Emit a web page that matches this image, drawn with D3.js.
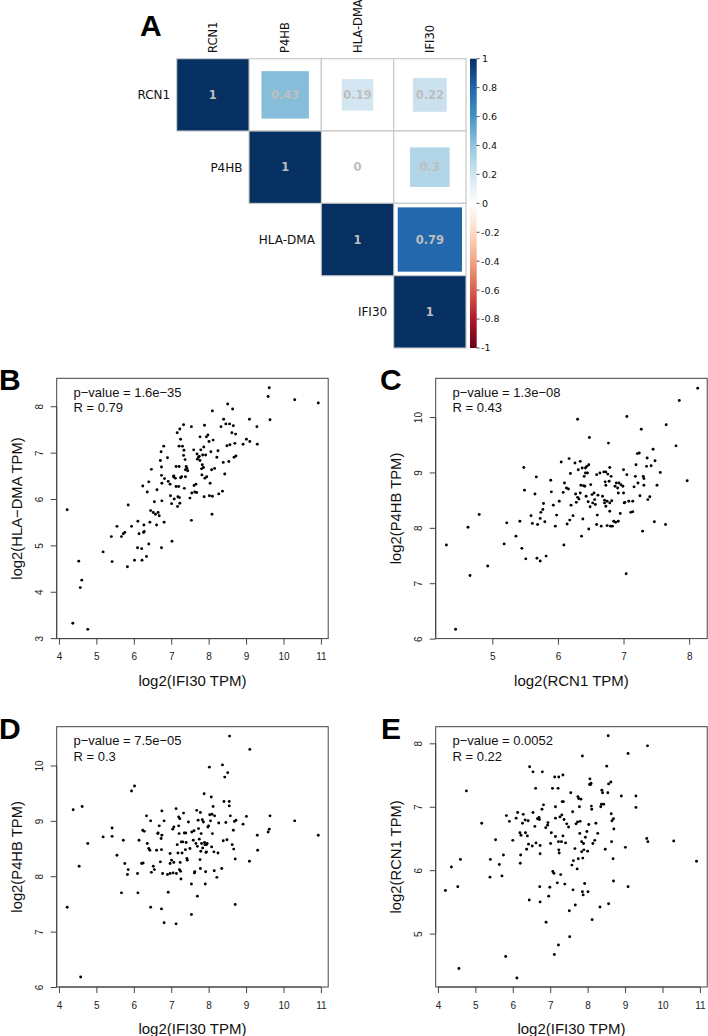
<!DOCTYPE html>
<html><head><meta charset="utf-8">
<script src="https://cdn.jsdelivr.net/npm/d3@7"></script>
<style>body{margin:0;background:#fff}svg{display:block}</style>
</head><body>
<svg id="fig" width="708" height="1036"></svg>
<script>
// ---------- Panel A data ----------
const genes = ["RCN1", "P4HB", "HLA-DMA", "IFI30"];
const corrRCN1   = [1, 0.43, 0.19, 0.22];
const corrP4HB   = [0.43, 1, 0, 0.3];
const corrHLADMA = [0.19, 0, 1, 0.79];
const corrIFI30  = [0.22, 0.3, 0.79, 1];
const legendTicks = [1, 0.8, 0.6, 0.4, 0.2, 0, -0.2, -0.4, -0.6, -0.8, -1];
const rdbuStops = ["#67001F","#B2182B","#D6604D","#F4A582","#FDDBC7","#FFFFFF","#D1E5F0","#92C5DE","#4393C3","#2166AC","#053061"];

// ---------- Panel B: IFI30 vs HLA-DMA ----------
const bX = [4.22,4.53,4.61,4.57,4.37,4.77,5.18,5.42,5.40,5.55,5.67,5.72,5.76,5.83,5.85,5.94,6.02,6.11,6.10,6.14,6.21,6.22,6.24,6.27,6.26,6.28,6.34,6.36,6.40,6.40,6.43,6.45,6.47,6.52,6.55,6.58,6.62,6.61,6.65,6.68,6.71,6.73,6.74,6.74,6.75,6.75,6.74,6.80,6.81,6.82,6.90,6.92,6.97,6.98,7.01,7.02,7.06,7.07,7.08,7.11,7.13,7.13,7.16,7.17,7.18,7.20,7.21,7.21,7.22,7.23,7.23,7.25,7.25,7.28,7.30,7.33,7.33,7.34,7.35,7.37,7.38,7.40,7.42,7.44,7.38,7.50,7.54,7.54,7.55,7.60,7.61,7.63,7.66,7.68,7.69,7.70,7.73,7.75,7.77,7.77,7.79,7.81,7.82,7.83,7.84,7.86,7.87,7.88,7.89,7.90,7.92,7.94,7.95,7.98,8.01,8.02,8.04,8.06,8.08,8.09,8.10,8.10,8.12,8.16,8.22,8.25,8.27,8.33,8.37,8.39,8.40,8.43,8.46,8.49,8.51,8.54,8.56,8.57,8.64,8.62,8.66,8.68,8.70,8.72,8.73,8.92,9.01,9.09,9.10,9.29,9.30,9.59,9.62,9.64,10.30,10.93];
const bY = [5.77,4.66,4.25,4.09,3.32,3.19,4.86,4.65,5.19,5.41,5.19,5.25,5.28,4.54,5.87,5.41,4.68,5.52,4.95,5.25,4.93,4.68,6.28,5.44,5.28,5.30,4.76,6.15,6.37,5.03,5.50,5.75,6.64,5.71,5.94,5.67,6.20,5.44,5.71,5.64,6.83,7.02,6.69,6.51,6.34,5.96,4.95,7.14,5.50,6.44,6.89,6.38,6.32,6.07,5.90,5.09,6.48,6.50,6.00,6.45,6.70,6.27,7.43,5.84,6.05,6.27,7.14,6.70,6.03,7.51,5.91,7.29,6.46,6.48,7.14,7.60,6.94,7.05,6.23,6.85,6.63,6.70,6.66,6.61,6.48,6.02,5.54,7.56,6.13,7.06,6.29,6.15,6.32,6.14,6.97,6.86,6.90,6.92,7.34,6.83,7.06,6.65,6.52,6.74,6.95,6.68,7.12,6.05,7.59,6.45,6.95,7.34,6.48,7.38,7.24,6.07,6.34,7.02,6.63,5.67,6.06,7.90,7.27,6.66,6.90,7.04,6.11,7.56,6.17,6.79,7.72,6.54,7.62,7.15,8.05,6.81,7.62,7.17,7.94,7.43,7.58,6.90,7.20,7.40,6.93,7.18,7.29,7.72,7.24,7.56,7.18,8.21,8.40,7.71,8.14,8.07];

// ---------- Panel C: RCN1 vs P4HB ----------
const cX = [4.30,4.44,4.63,4.66,4.80,4.93,5.18,5.22,5.36,5.42,5.45,5.48,5.49,5.51,5.59,5.61,5.65,5.67,5.68,5.69,5.73,5.73,5.74,5.77,5.78,5.80,5.82,5.89,5.90,5.93,5.96,5.98,6.02,6.05,6.08,6.09,6.10,6.13,6.14,6.16,6.17,6.18,6.19,6.20,6.23,6.26,6.27,6.28,6.30,6.30,6.31,6.32,6.34,6.34,6.35,6.36,6.37,6.38,6.39,6.40,6.41,6.42,6.42,6.43,6.44,6.45,6.46,6.47,6.47,6.48,6.49,6.50,6.52,6.53,6.55,6.56,6.57,6.59,6.59,6.60,6.61,6.64,6.66,6.68,6.70,6.71,6.71,6.72,6.73,6.73,6.73,6.75,6.75,6.76,6.77,6.78,6.79,6.79,6.79,6.80,6.81,6.82,6.83,6.85,6.87,6.88,6.89,6.91,6.92,6.92,6.93,6.95,6.96,6.99,7.00,7.00,7.01,7.02,7.04,7.05,7.05,7.08,7.11,7.14,7.14,7.16,7.18,7.19,7.21,7.22,7.24,7.25,7.27,7.29,7.30,7.31,7.31,7.35,7.36,7.37,7.40,7.42,7.45,7.47,7.48,7.51,7.56,7.64,7.65,7.80,7.85,7.97,8.13];
const cY = [7.69,6.17,8.01,7.14,8.24,7.31,7.71,8.09,7.85,8.12,7.63,9.09,8.68,7.44,8.22,8.08,8.61,8.92,7.45,8.06,8.17,7.40,8.28,8.33,8.44,8.11,7.49,8.86,8.65,8.41,8.03,8.23,8.48,9.19,8.64,7.69,8.81,8.72,8.07,8.70,9.25,8.14,8.98,8.41,8.22,9.17,8.61,8.46,9.96,8.55,9.05,8.52,8.63,9.20,8.77,7.85,9.08,8.16,8.76,8.93,8.75,9.08,8.99,8.57,9.11,8.99,8.47,9.14,7.98,9.63,8.38,8.78,8.60,8.45,8.63,8.51,8.42,8.96,8.06,8.23,8.59,8.99,8.03,8.57,9.01,8.45,8.50,8.83,9.01,8.39,8.77,8.04,8.48,8.97,9.53,8.84,9.09,8.45,8.30,8.03,8.93,8.49,8.03,8.12,8.75,8.10,8.81,8.72,8.12,8.63,8.81,8.26,8.78,8.75,9.05,8.63,8.45,8.46,7.17,10.01,8.96,8.48,8.28,8.48,8.29,8.74,8.93,9.14,9.34,8.81,9.35,8.58,9.78,7.94,8.93,8.77,8.89,9.11,9.26,8.51,8.56,9.12,9.42,8.11,9.21,8.77,9.00,8.06,9.86,9.48,10.30,8.85,10.52];

// ---------- Panel D: IFI30 vs P4HB ----------
const dX = [4.22,4.38,4.54,4.58,4.62,4.77,5.18,5.42,5.42,5.55,5.67,5.72,5.76,5.83,5.85,5.94,6.02,6.10,6.11,6.14,6.21,6.24,6.25,6.28,6.34,6.36,6.40,6.43,6.45,6.45,6.47,6.52,6.55,6.61,6.64,6.65,6.68,6.71,6.73,6.74,6.75,6.75,6.74,6.77,6.81,6.81,6.90,6.92,6.97,6.97,6.97,7.01,7.04,7.05,7.07,7.07,7.13,7.13,7.14,7.16,7.18,7.20,7.20,7.21,7.22,7.23,7.24,7.25,7.26,7.27,7.29,7.31,7.33,7.35,7.38,7.39,7.40,7.42,7.43,7.46,7.50,7.54,7.54,7.55,7.59,7.61,7.62,7.63,7.66,7.68,7.70,7.70,7.72,7.73,7.75,7.77,7.78,7.78,7.79,7.80,7.81,7.83,7.84,7.86,7.88,7.89,7.90,7.91,7.92,7.93,7.94,7.94,7.96,7.98,8.00,8.02,8.03,8.05,8.07,8.08,8.09,8.10,8.12,8.14,8.15,8.16,8.22,8.25,8.27,8.35,8.37,8.39,8.41,8.43,8.46,8.49,8.51,8.55,8.55,8.56,8.58,8.63,8.66,8.67,8.69,8.71,8.71,8.73,8.92,9.01,9.09,9.10,9.30,9.31,9.59,9.62,9.64,10.30,10.93];
const dY = [7.44,9.20,8.18,6.18,9.26,8.59,8.71,8.87,8.72,8.38,7.70,8.65,8.23,8.03,8.12,9.54,9.63,8.05,7.70,8.65,8.23,8.83,8.24,8.81,9.09,8.59,8.50,8.47,9.00,7.44,8.07,8.18,8.12,8.47,8.77,8.78,8.91,8.26,8.68,8.48,8.74,9.18,7.41,8.05,9.00,7.16,8.03,7.71,8.23,8.41,8.05,8.29,8.85,8.06,8.89,8.25,7.14,9.22,8.05,8.57,8.42,9.07,8.91,8.77,8.12,9.04,8.25,8.09,7.95,8.62,8.42,8.62,9.14,8.78,8.48,8.78,8.61,8.32,8.29,8.98,8.50,7.86,7.31,8.80,8.65,8.82,8.06,8.08,8.59,9.19,7.64,8.54,9.01,8.86,8.67,8.30,9.15,8.14,8.45,8.77,8.59,9.02,8.51,8.98,9.49,8.61,8.57,7.86,8.08,8.43,8.57,8.44,8.59,8.89,8.91,9.97,9.11,9.00,9.43,8.53,9.12,8.77,9.26,8.44,8.10,9.09,7.98,8.42,8.96,8.14,10.01,8.64,9.35,9.79,8.97,8.66,9.87,9.35,9.27,10.53,9.09,8.57,8.83,8.49,8.99,8.31,7.49,9.01,8.94,9.08,8.27,10.29,8.74,8.47,8.80,8.85,9.09,9.00,8.74];

// ---------- Panel E: IFI30 vs RCN1 ----------
const eX = [4.20,4.36,4.53,4.56,4.60,4.76,5.17,5.40,5.39,5.54,5.64,5.71,5.75,5.81,5.83,5.91,6.00,6.09,6.11,6.13,6.19,6.20,6.21,6.22,6.26,6.28,6.33,6.34,6.37,6.39,6.41,6.42,6.44,6.45,6.52,6.54,6.54,6.59,6.61,6.62,6.66,6.70,6.71,6.72,6.73,6.73,6.73,6.78,6.79,6.82,6.88,6.89,6.93,6.94,6.96,6.99,7.01,7.03,7.06,7.07,7.10,7.11,7.12,7.14,7.14,7.14,7.19,7.21,7.22,7.22,7.23,7.24,7.23,7.26,7.28,7.30,7.31,7.32,7.34,7.34,7.35,7.37,7.39,7.41,7.44,7.49,7.51,7.52,7.55,7.58,7.60,7.61,7.62,7.66,7.67,7.69,7.72,7.73,7.74,7.75,7.76,7.78,7.79,7.80,7.82,7.84,7.84,7.86,7.86,7.87,7.88,7.89,7.90,7.92,7.94,7.98,8.00,8.01,8.03,8.05,8.06,8.08,8.09,8.10,8.11,8.12,8.14,8.19,8.22,8.27,8.33,8.35,8.37,8.38,8.40,8.43,8.47,8.51,8.54,8.55,8.56,8.56,8.62,8.63,8.64,8.65,8.68,8.69,8.69,8.70,8.90,9.01,9.08,9.08,9.29,9.29,9.58,9.60,9.61,10.30,10.91];
const eY = [5.68,6.05,5.74,4.45,6.17,7.25,6.74,6.17,5.89,6.48,6.09,5.91,6.24,4.64,6.86,6.77,6.47,6.82,4.30,6.91,6.59,6.11,6.24,6.55,6.74,6.88,6.79,6.59,6.33,6.54,6.78,6.41,5.53,7.63,6.38,6.91,7.55,6.69,7.29,6.43,6.81,6.83,6.80,5.74,6.39,6.26,5.50,6.96,7.55,7.03,6.67,5.18,6.71,6.75,5.59,5.73,6.42,6.59,7.29,5.98,5.95,4.67,7.47,7.00,6.82,6.53,5.80,7.29,4.82,6.45,6.32,6.27,7.47,6.84,5.93,6.45,6.87,7.08,6.54,7.50,7.08,6.80,5.78,6.43,6.73,6.68,5.36,4.95,7.22,6.08,6.92,5.69,6.15,6.34,5.45,6.73,6.02,6.76,7.16,6.18,7.13,7.00,6.58,6.77,7.12,6.45,6.29,7.80,5.66,6.19,5.61,6.42,6.32,5.79,6.52,6.61,6.30,5.66,6.72,7.35,7.44,7.35,7.37,7.01,6.96,5.22,6.42,6.47,6.74,6.58,5.42,7.00,7.04,7.26,7.22,7.04,6.33,7.64,7.22,8.12,7.36,5.47,7.39,6.89,6.45,6.78,6.18,6.81,5.83,6.65,7.17,6.36,5.74,7.84,7.17,6.99,6.50,7.96,6.45,6.46,6.14];

// ---------- axis settings ----------
const ifi30Domain = [3.94, 11.195], ifi30Ticks = [4,5,6,7,8,9,10,11];
const hladmaDomain = [2.99, 8.603], hladmaTicks = [3,4,5,6,7,8];
const rcn1XDomain = [4.137, 8.275], rcn1XTicks = [5,6,7,8];
const p4hbDomain = [6.0, 10.70], p4hbTicks = [6,7,8,9,10];
const rcn1YDomain = [4.158, 8.262], rcn1YTicks = [5,6,7,8];

const svg = d3.select("#fig");
const sans = "'Liberation Sans', Arial, sans-serif";
const dv = "'DejaVu Sans', sans-serif";

// ================= Panel A =================
const corrRows = [corrRCN1, corrP4HB, corrHLADMA, corrIFI30];
const gx = d3.scaleBand().domain(genes).range([176.7, 466]);
const gy = d3.scaleBand().domain(genes).range([58.7, 348]);
const cs = gx.bandwidth();
const colorScale = d3.scaleLinear().domain(d3.range(11).map(i => -1 + i * 0.2)).range(rdbuStops);

const cells = [];
genes.forEach((rg, i) => genes.forEach((cg, j) => { if (j >= i) cells.push({ r: rg, c: cg, v: corrRows[i][j], diag: i === j }); }));

const gA = svg.append("g");
gA.selectAll("rect.grid").data(cells).join("rect")
  .attr("x", d => gx(d.c)).attr("y", d => gy(d.r)).attr("width", cs).attr("height", cs)
  .attr("fill", "#fff").attr("stroke", "#C8C8C8").attr("stroke-width", 1.2);
gA.selectAll("rect.val").data(cells.filter(d => d.v !== 0)).join("rect")
  .each(function (d) {
    const s = d.diag ? cs - 1 : Math.sqrt(Math.abs(d.v)) * cs;
    d3.select(this).attr("x", gx(d.c) + (cs - s) / 2).attr("y", gy(d.r) + (cs - s) / 2)
      .attr("width", s).attr("height", s).attr("fill", colorScale(d.v));
  });
gA.selectAll("text.val").data(cells).join("text")
  .attr("x", d => gx(d.c) + cs / 2).attr("y", d => gy(d.r) + cs / 2).attr("dy", "0.36em")
  .attr("text-anchor", "middle").attr("font-family", dv).attr("font-weight", "bold")
  .attr("font-size", 11.5).attr("fill", "#BEBEBE").text(d => d3.format("~g")(d.v));
// column labels
gA.selectAll("text.col").data(genes).join("text")
  .attr("transform", d => `translate(${gx(d) + cs / 2},53) rotate(-90)`).attr("dy", "0.36em")
  .attr("font-family", dv).attr("font-size", 11.5).attr("fill", "#111").text(d => d);
// row labels
gA.selectAll("text.row").data(genes).join("text")
  .attr("x", d => gx(d) - 6.5).attr("y", d => gy(d) + cs / 2).attr("dy", "0.36em")
  .attr("text-anchor", "end").attr("font-family", dv).attr("font-size", 12).attr("fill", "#111").text(d => d);
// color legend
const defs = svg.append("defs");
const grad = defs.append("linearGradient").attr("id", "cbar").attr("x1", 0).attr("y1", 1).attr("x2", 0).attr("y2", 0);
rdbuStops.forEach((c, i) => grad.append("stop").attr("offset", i / 10).attr("stop-color", c));
const ly = d3.scaleLinear().domain([-1, 1]).range([348, 58.7]);
gA.append("rect").attr("x", 470).attr("y", 58.7).attr("width", 6.7).attr("height", 289.3).attr("fill", "url(#cbar)");
gA.selectAll("line.lt").data(legendTicks).join("line")
  .attr("x1", 476.7).attr("x2", 479.5).attr("y1", d => ly(d)).attr("y2", d => ly(d)).attr("stroke", "#222").attr("stroke-width", 0.8);
gA.selectAll("text.lt").data(legendTicks).join("text")
  .attr("x", d => d < 0 ? 481 : 482).attr("y", d => ly(d)).attr("dy", "0.36em")
  .attr("font-family", dv).attr("font-size", 9.5).attr("fill", "#111").text(d => d);
svg.append("text").attr("x", 140).attr("y", 36).attr("font-family", sans).attr("font-weight", "bold")
  .attr("font-size", 30).text("A");

// ================= scatter panels =================
const W = 271.5, H = 260.3;
function scatter(o) {
  const g = svg.append("g");
  const x = d3.scaleLinear().domain(o.xd).range([o.x0, o.x0 + W]);
  const y = d3.scaleLinear().domain(o.yd).range([o.y0 + H, o.y0]);
  const pts = o.xs.map((v, i) => [v, o.ys[i]]);
  g.selectAll("circle").data(pts).join("circle")
    .attr("cx", d => x(d[0])).attr("cy", d => y(d[1])).attr("r", 1.45).attr("fill", "#000");
  g.append("rect").attr("x", o.x0).attr("y", o.y0).attr("width", W).attr("height", H)
    .attr("fill", "none").attr("stroke", "#444").attr("stroke-width", 1);
  // x axis
  const xa = g.append("g").attr("transform", `translate(0,${o.y0 + H})`)
    .call(d3.axisBottom(x).tickValues(o.xt).tickSize(6).tickSizeOuter(0).tickFormat(d3.format("d")));
  xa.select(".domain").attr("d", `M${x(o.xt[0])},0H${x(o.xt[o.xt.length - 1])}`).attr("stroke", "#444");
  xa.selectAll(".tick line").attr("stroke", "#444");
  xa.selectAll(".tick text").attr("y", 18.3).attr("dy", "0.36em").attr("font-family", sans).attr("font-size", 10).attr("fill", "#222");
  // y axis
  const ya = g.append("g").attr("transform", `translate(${o.x0},0)`)
    .call(d3.axisLeft(y).tickValues(o.yt).tickSize(6).tickSizeOuter(0).tickFormat(d3.format("d")));
  ya.select(".domain").attr("d", `M0,${y(o.yt[0])}V${y(o.yt[o.yt.length - 1])}`).attr("stroke", "#444");
  ya.selectAll(".tick line").attr("stroke", "#444");
  ya.selectAll(".tick text").attr("x", null).attr("dy", null)
    .attr("transform", "translate(-17,0) rotate(-90)").attr("text-anchor", "middle").attr("dy", "0.36em")
    .attr("font-family", sans).attr("font-size", 10).attr("fill", "#222");
  // titles
  g.append("text").attr("x", o.x0 + W / 2).attr("y", o.y0 + H + 41.5).attr("dy", "0.36em")
    .attr("text-anchor", "middle").attr("font-family", sans).attr("font-size", 15).attr("fill", "#111").text(o.xl);
  g.append("text").attr("transform", `translate(${o.x0 - 40},${o.y0 + H / 2}) rotate(-90)`).attr("dy", "0.36em")
    .attr("text-anchor", "middle").attr("font-family", sans).attr("font-size", 14.8).attr("fill", "#111").text(o.yl);
  g.append("text").attr("x", o.x0 + 16.8).attr("y", o.y0 + 14).attr("dy", "0.36em")
    .attr("font-family", sans).attr("font-size", 13).attr("fill", "#111").text("p\u2212value = " + o.p);
  g.append("text").attr("x", o.x0 + 16.8).attr("y", o.y0 + 29.3).attr("dy", "0.36em")
    .attr("font-family", sans).attr("font-size", 13).attr("fill", "#111").text("R = " + o.r);
  g.append("text").attr("x", o.lx).attr("y", o.y0 + 12).attr("font-family", sans).attr("font-weight", "bold")
    .attr("font-size", 30).attr("fill", "#000").text(o.letter);
}
scatter({ letter: "B", lx: -1, x0: 56.7, y0: 378.3, xs: bX, ys: bY, xd: ifi30Domain, yd: hladmaDomain, xt: ifi30Ticks, yt: hladmaTicks,
  xl: "log2(IFI30 TPM)", yl: "log2(HLA\u2212DMA TPM)", p: "1.6e\u221235", r: "0.79" });
scatter({ letter: "C", lx: 380, x0: 435.7, y0: 378.3, xs: cX, ys: cY, xd: rcn1XDomain, yd: p4hbDomain, xt: rcn1XTicks, yt: p4hbTicks,
  xl: "log2(RCN1 TPM)", yl: "log2(P4HB TPM)", p: "1.3e\u221208", r: "0.43" });
scatter({ letter: "D", lx: -1, x0: 56.7, y0: 726.7, xs: dX, ys: dY, xd: ifi30Domain, yd: p4hbDomain, xt: ifi30Ticks, yt: p4hbTicks,
  xl: "log2(IFI30 TPM)", yl: "log2(P4HB TPM)", p: "7.5e\u221205", r: "0.3" });
scatter({ letter: "E", lx: 381, x0: 435.7, y0: 726.7, xs: eX, ys: eY, xd: ifi30Domain, yd: rcn1YDomain, xt: ifi30Ticks, yt: rcn1YTicks,
  xl: "log2(IFI30 TPM)", yl: "log2(RCN1 TPM)", p: "0.0052", r: "0.22" });
</script>
</body></html>
